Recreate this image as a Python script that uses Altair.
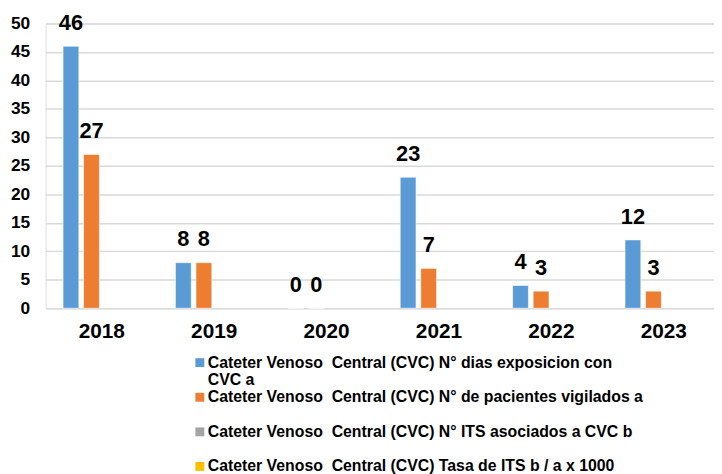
import altair as alt
import pandas as pd

NB = "\u00a0"
years = ["2018", "2019", "2020", "2021", "2022", "2023"]
series = [
    "Cateter Venoso" + NB + " Central (CVC) N° dias exposicion con CVC a",
    "Cateter Venoso" + NB + " Central (CVC) N° de pacientes vigilados a",
    "Cateter Venoso" + NB + " Central (CVC) N° ITS asociados a CVC b",
    "Cateter Venoso" + NB + " Central (CVC) Tasa de ITS b / a x 1000",
]
first_label_lines = ["Cateter Venoso" + NB + " Central (CVC) N° dias exposicion con", "CVC a"]
dias_exposicion = [46, 8, 0, 23, 4, 12]
pacientes_vigilados = [27, 8, 0, 7, 3, 3]
its_asociados = [None, None, None, None, None, None]
tasa_its = [None, None, None, None, None, None]
colors = ["#5B9BD5", "#ED7D31", "#A5A5A5", "#FFC000"]

rows = []
for s, vals in zip(series, [dias_exposicion, pacientes_vigilados, its_asociados, tasa_its]):
    for y, v in zip(years, vals):
        rows.append({"year": y, "series": s, "value": v})
df = pd.DataFrame(rows)

FONT = "Liberation Sans"

x = alt.X("year:N", sort=years, title=None,
          scale=alt.Scale(range=[0, 682], paddingInner=0, paddingOuter=0),
          axis=alt.Axis(labelAngle=0, labelFont=FONT, labelFontSize=21, labelFontWeight="bold",
                        labelColor="#000000", labelPadding=13, ticks=False, domain=False, grid=False))
xo = alt.XOffset("series:N", sort=series,
                 scale=alt.Scale(domain=series, paddingInner=0.23, paddingOuter=0.85))
y = alt.Y("value:Q", title=None,
          scale=alt.Scale(domain=[0, 50], nice=False),
          axis=alt.Axis(values=list(range(0, 51, 5)), labelFont=FONT, labelFontSize=17.5,
                        labelFontWeight="bold", labelColor="#000000", labelPadding=16,
                        ticks=False, domain=False, gridColor="#d9d9d9", gridWidth=1.5))

label_expr = ("datum.label == '" + series[0] + "' ? "
              "['" + first_label_lines[0] + "', '" + first_label_lines[1] + "'] : "
              "[datum.label, '']")

color = alt.Color("series:N", sort=series, title=None,
                  scale=alt.Scale(domain=series, range=colors),
                  legend=alt.Legend(orient="none", legendX=148, legendY=335, direction="vertical",
                                    symbolType="square", symbolSize=81, symbolStrokeWidth=0,
                                    labelFont=FONT, labelFontSize=16, labelFontWeight="bold",
                                    labelColor="#000000", labelLimit=800, labelOffset=0,
                                    rowPadding=1, padding=0, labelExpr=label_expr))

base = alt.Chart(df).transform_filter("isValid(datum.value)")

bars = base.mark_bar(stroke="white", strokeWidth=0.6).encode(x=x, xOffset=xo, y=y, color=color)
labels = base.mark_text(dy=-16.5, baseline="alphabetic", font=FONT, fontSize=22,
                        fontWeight="bold", color="#000000").encode(
    x=x, xOffset=xo, y=y, text=alt.Text("value:Q"))

chart = (bars + labels).properties(
    width=676, height=288,
    autosize=alt.AutoSizeParams(type="none"),
    padding={"left": 38, "top": 13, "right": 0, "bottom": 165},
).configure_view(stroke=None).configure(background="white")

chart.save("out.html", embed_options={"renderer": "svg", "actions": False})
